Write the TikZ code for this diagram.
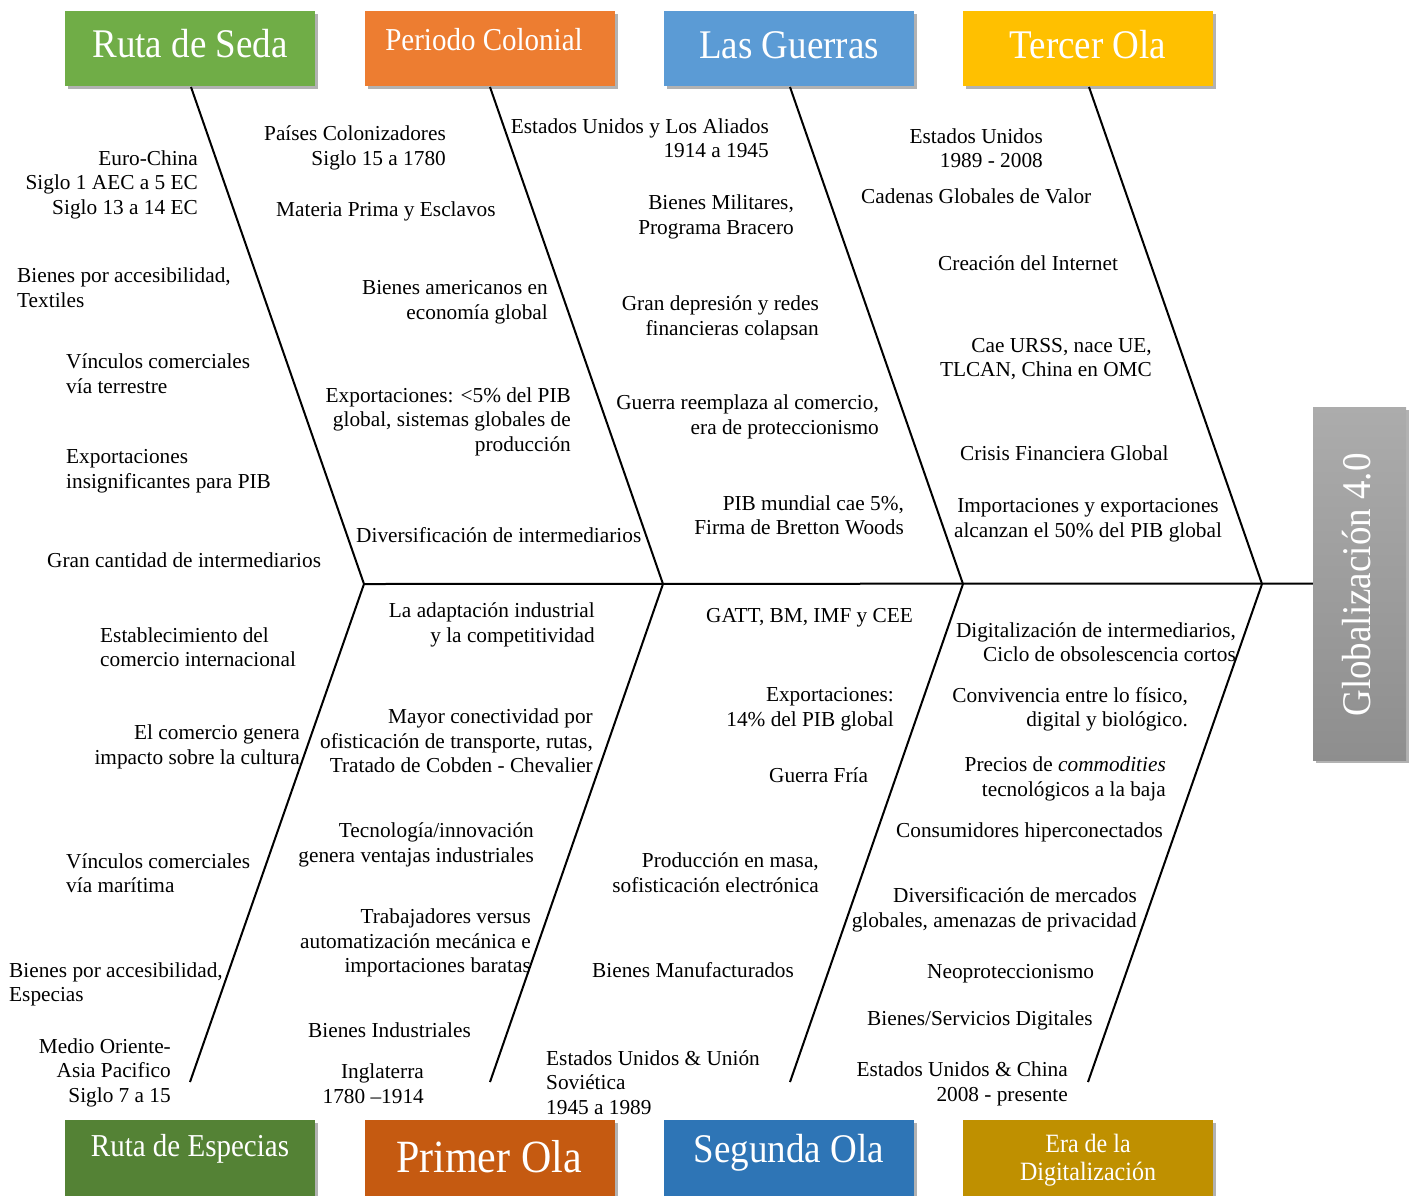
\documentclass[tikz,border=0pt]{standalone}
\usepackage{fontspec}
\setmainfont{Liberation Serif}
\usetikzlibrary{shadows}
\definecolor{cgreenA}{HTML}{70AD47}
\definecolor{corangeA}{HTML}{ED7D31}
\definecolor{cblueA}{HTML}{5B9BD5}
\definecolor{cgoldA}{HTML}{FFC000}
\definecolor{cgreenB}{HTML}{548235}
\definecolor{corangeB}{HTML}{C55A11}
\definecolor{cblueB}{HTML}{2E75B6}
\definecolor{cgoldB}{HTML}{BF9000}
\definecolor{cgrayT}{HTML}{ACACAC}
\definecolor{cgrayB}{HTML}{8E8E8E}
\newcommand{\tsz}[2]{\fontsize{#1}{#2}\selectfont}
\newcommand{\vst}[1]{\scalebox{1}[1.1]{#1}}
\begin{document}
\begin{tikzpicture}[x=1pt,y=-1pt,
  txt/.style={font=\tsz{21.3}{24.5}, inner sep=0pt, yshift=-2.5pt},
  tl/.style={txt, align=left, anchor=west},
  tr/.style={txt, align=right, anchor=east},
  tc/.style={txt, align=center, anchor=center},
  hbox/.style={minimum width=250pt, minimum height=75pt, inner sep=0pt,
    drop shadow={shadow xshift=2.5pt, shadow yshift=-3pt, fill=black, opacity=0.3}},
  htitle/.style={text=white, inner sep=0pt, align=center},
  bone/.style={line width=2pt, black}]
\useasboundingbox (0,0) rectangle (1414,1195);
% header boxes (top)
\node[hbox, fill=cgreenA] (bxA) at (190,48.5) {};
\node[hbox, fill=corangeA] (bxB) at (490,48.5) {};
\node[hbox, fill=cblueA] (bxC) at (789,48.5) {};
\node[hbox, fill=cgoldA] (bxD) at (1088,48.5) {};
% header boxes (bottom)
\node[hbox, fill=cgreenB, minimum height=80pt] (byA) at (190,1160) {};
\node[hbox, fill=corangeB, minimum height=80pt] (byB) at (490,1160) {};
\node[hbox, fill=cblueB, minimum height=80pt] (byC) at (789,1160) {};
\node[hbox, fill=cgoldB, minimum height=80pt] (byD) at (1088,1160) {};
% global box
\node[minimum width=93pt, minimum height=353pt, inner sep=0pt, top color=cgrayT, bottom color=cgrayB,
  drop shadow={shadow xshift=2.5pt, shadow yshift=-3pt, fill=black, opacity=0.3}] (gbx) at (1359.5,583.5) {};
\node[htitle, rotate=90, font=\tsz{37}{40}] (gtt) at (1357,585) {\vst{Globalización 4.0}};
% titles
\node[htitle, font=\tsz{37}{40}] (tA) at (190,44) {\vst{Ruta de Seda}};
\node[htitle, font=\tsz{29}{32}] (tB) at (484,40) {\vst{Periodo Colonial}};
\node[htitle, font=\tsz{37}{40}] (tC) at (789,45) {\vst{Las Guerras}};
\node[htitle, font=\tsz{37}{40}] (tD) at (1088,45) {\vst{Tercer Ola}};
\node[htitle, font=\tsz{29}{32}] (uA) at (190,1149) {\vst{Ruta de Especias}};
\node[htitle, font=\tsz{42}{44}] (uB) at (489,1157) {\vst{Primer Ola}};
\node[htitle, font=\tsz{37}{40}] (uC) at (789,1153) {\vst{Segunda Ola}};
\node[htitle, font=\tsz{24}{28.5}] (uD) at (1088,1160) {\vst{Era de la}\\\vst{Digitalización}};
% skeleton coordinates
\coordinate (jA) at (364,584);
\coordinate (jB) at (663,584);
\coordinate (jC) at (963,584);
\coordinate (jD) at (1262,584);
\coordinate (pA) at (191,87);
\coordinate (pB) at (490,87);
\coordinate (pC) at (790,87);
\coordinate (pD) at (1089,87);
\coordinate (qA) at (190,1082);
\coordinate (qB) at (490,1082);
\coordinate (qC) at (790,1082);
\coordinate (qD) at (1088,1082);
\draw[bone] (jA) -- (gbx.west);
\foreach \k in {A,B,C,D}{
  \draw[bone] (p\k) -- (j\k) -- (q\k);
}
% top texts
\node[tr] (n1) at (198,182) {Euro-China\\Siglo 1 AEC a 5 EC\\Siglo 13 a 14 EC};
\node[tl] (n2) at (17,285) {Bienes por accesibilidad,\\Textiles};
\node[tl] (n3) at (66,371) {Vínculos comerciales\\vía terrestre};
\node[tl] (n4) at (66,468.5) {Exportaciones\\insignificantes para PIB};
\node[tl] (n5) at (47,558) {Gran cantidad de intermediarios};
\node[tr] (n6) at (446,145.5) {Países Colonizadores\\Siglo 15 a 1780};
\node[tl] (n7) at (276,209) {Materia Prima y Esclavos};
\node[tr] (n8) at (548,299.5) {Bienes americanos en\\economía global};
\node[tr] (n9) at (571,419) {Exportaciones: <5\% del PIB\\global, sistemas globales de\\producción};
\node[tl] (n10) at (356,533) {Diversificación de intermediarios};
\node[tr] (n11) at (769,135.5) {Estados Unidos y Los Aliados\\1914 a 1945};
\node[tr] (n12) at (794,214.5) {Bienes Militares,\\Programa Bracero};
\node[tr] (n13) at (819,315.5) {Gran depresión y redes\\financieras colapsan};
\node[tr] (n14) at (879,414.5) {Guerra reemplaza al comercio,\\era de proteccionismo};
\node[tr] (n15) at (904,513) {PIB mundial cae 5\%,\\Firma de Bretton Woods};
\node[tr] (n16) at (1043,145.5) {Estados Unidos\\1989 - 2008};
\node[tl] (n17) at (861,194) {Cadenas Globales de Valor};
\node[tl] (n18) at (938,261) {Creación del Internet};
\node[tr] (n19) at (1152,356.5) {Cae URSS, nace UE,\\TLCAN, China en OMC};
\node[tl] (n20) at (960,451) {Crisis Financiera Global};
\node[tc] (n21) at (1088,517.5) {Importaciones y exportaciones\\alcanzan el 50\% del PIB global};
% bottom texts
\node[tl] (m1) at (100,644.5) {Establecimiento del\\comercio internacional};
\node[tr] (m2) at (300,744.5) {El comercio genera\\impacto sobre la cultura};
\node[tl] (m3) at (66,870.5) {Vínculos comerciales\\vía marítima};
\node[tl] (m4) at (9,982) {Bienes por accesibilidad,\\Especias};
\node[tr] (m5) at (171,1070) {Medio Oriente-\\Asia Pacifico\\Siglo 7 a 15};
\node[tr] (m6) at (595,622.5) {La adaptación industrial\\y la competitividad};
\node[tr] (m7) at (593,738.5) {Mayor conectividad por\\ofisticación de transporte, rutas,\\Tratado de Cobden - Chevalier};
\node[tr] (m8) at (534,842.5) {Tecnología/innovación\\genera ventajas industriales};
\node[tr] (m9) at (531,940.5) {Trabajadores versus\\automatización mecánica e\\importaciones baratas};
\node[tl] (m10) at (308,1028) {Bienes Industriales};
\node[tr] (m11) at (424,1081) {Inglaterra\\1780 –1914};
\node[tl] (m12) at (706,615) {GATT, BM, IMF y CEE};
\node[tr] (m13) at (894,706.5) {Exportaciones:\\14\% del PIB global};
\node[tl] (m14) at (769,773) {Guerra Fría};
\node[tr] (m15) at (819,870) {Producción en masa,\\sofisticación electrónica};
\node[tl] (m16) at (592,968) {Bienes Manufacturados};
\node[tl] (m17) at (546,1080) {Estados Unidos \& Unión\\Soviética\\1945 a 1989};
\node[tr] (m18) at (1236,639.5) {Digitalización de intermediarios,\\Ciclo de obsolescencia cortos};
\node[tr] (m19) at (1188,707) {Convivencia entre lo físico,\\digital y biológico.};
\node[tr] (m20) at (1166,776.5) {Precios de \textit{commodities}\\tecnológicos a la baja};
\node[tl] (m21) at (896,830) {Consumidores hiperconectados};
\node[tr] (m22) at (1137,907.5) {Diversificación de mercados\\globales, amenazas de privacidad};
\node[tl] (m23) at (927,971) {Neoproteccionismo};
\node[tl] (m24) at (867,1018) {Bienes/Servicios Digitales};
\node[tr] (m25) at (1068,1081.5) {Estados Unidos \& China\\2008 - presente};
\end{tikzpicture}
\end{document}
